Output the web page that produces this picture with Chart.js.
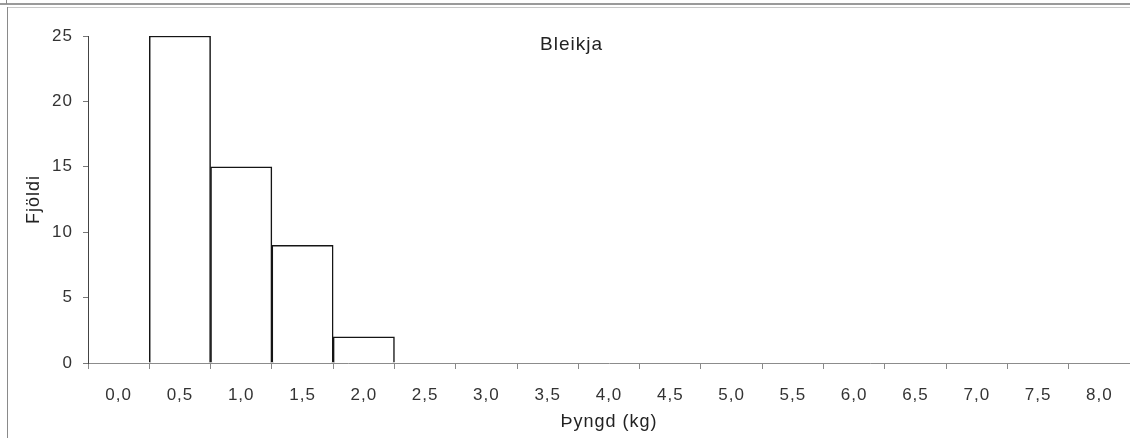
<!DOCTYPE html>
<html>
<head>
<meta charset="utf-8">
<script src="https://cdn.jsdelivr.net/npm/chart.js@4"></script>
<style>
  html, body { margin: 0; padding: 0; background: #fff; }
  #wrap { position: relative; width: 1130px; height: 438px; overflow: hidden; }
  #chart { position: absolute; left: 0; top: 0; }
  .ln { position: absolute; background: #8a8a8a; }
</style>
</head>
<body>
<div id="wrap">
  <canvas id="chart" width="1130" height="438"></canvas>
  <!-- scanned frame lines -->
  <div class="ln" style="left:0;top:3px;width:1130px;height:2px;background:#9a9a9a"></div>
  <div class="ln" style="left:6px;top:0;width:1px;height:4px"></div>
  <div class="ln" style="left:8px;top:7px;width:1122px;height:1px;background:#c8c8c8"></div>
  <div class="ln" style="left:7px;top:7px;width:1px;height:431px"></div>
</div>
<script>
// weight classes (kg) and counts
const weightLabels = ["0,0","0,5","1,0","1,5","2,0","2,5","3,0","3,5","4,0","4,5","5,0","5,5","6,0","6,5","7,0","7,5","8,0"];
const counts = [0, 25, 15, 9, 2, 0, 0, 0, 0, 0, 0, 0, 0, 0, 0, 0, 0];
const yTicks = [0, 5, 10, 15, 20, 25];
const chartTitle = "Bleikja";

const FONT = "Liberation Sans";
const spacing = {
  id: 'spacing',
  beforeUpdate(chart) { chart.ctx.letterSpacing = '1px'; },
  beforeDraw(chart) { chart.ctx.letterSpacing = '1px'; }
};
const innerTitle = {
  id: 'innerTitle',
  afterDraw(chart) {
    const {ctx, chartArea} = chart;
    ctx.save();
    ctx.font = "19px " + FONT;
    ctx.fillStyle = '#222';
    ctx.textAlign = 'center';
    ctx.textBaseline = 'middle';
    ctx.fillText(chartTitle, chartArea.left + (chartArea.right - chartArea.left) * 0.464, chartArea.top + 9);
    ctx.restore();
  }
};

new Chart(document.getElementById('chart'), {
  type: 'bar',
  data: {
    labels: weightLabels,
    datasets: [{
      data: counts,
      backgroundColor: '#ffffff',
      borderColor: '#151515',
      borderWidth: 1.5,
      borderSkipped: 'start',
      categoryPercentage: 1.0,
      barPercentage: 1.0
    }]
  },
  options: {
    responsive: false,
    animation: false,
    devicePixelRatio: 1,
    layout: { padding: { top: 36, left: 0, right: 0, bottom: 0 } },
    plugins: { legend: { display: false }, tooltip: { enabled: false }, title: { display: false } },
    scales: {
      x: {
        offset: true,
        grid: { display: true, drawOnChartArea: false, offset: true, tickLength: 6, color: '#888' },
        border: { display: true, color: '#8c8c8c', width: 1 },
        ticks: { autoSkip: false, maxRotation: 0, padding: 16, color: '#333', font: { family: FONT, size: 17 } },
        title: { display: true, text: 'Þyngd (kg)', color: '#222', font: { family: FONT, size: 18 }, padding: { top: 0, bottom: 5 } },
        afterFit(scale) { scale.height = 75; }
      },
      y: {
        min: 0,
        max: 25,
        afterBuildTicks(scale) { scale.ticks = yTicks.map(v => ({ value: v })); },
        grid: { display: true, drawOnChartArea: false, tickLength: 5, color: '#777' },
        border: { display: true, color: '#444', width: 1 },
        ticks: { padding: 10, color: '#333', font: { family: FONT, size: 17 } },
        title: { display: true, text: 'Fjöldi', color: '#222', font: { family: FONT, size: 18 }, padding: { top: 23, bottom: 0 } },
        afterFit(scale) { scale.width = 88; }
      }
    }
  },
  plugins: [spacing, innerTitle]
});
</script>
</body>
</html>
